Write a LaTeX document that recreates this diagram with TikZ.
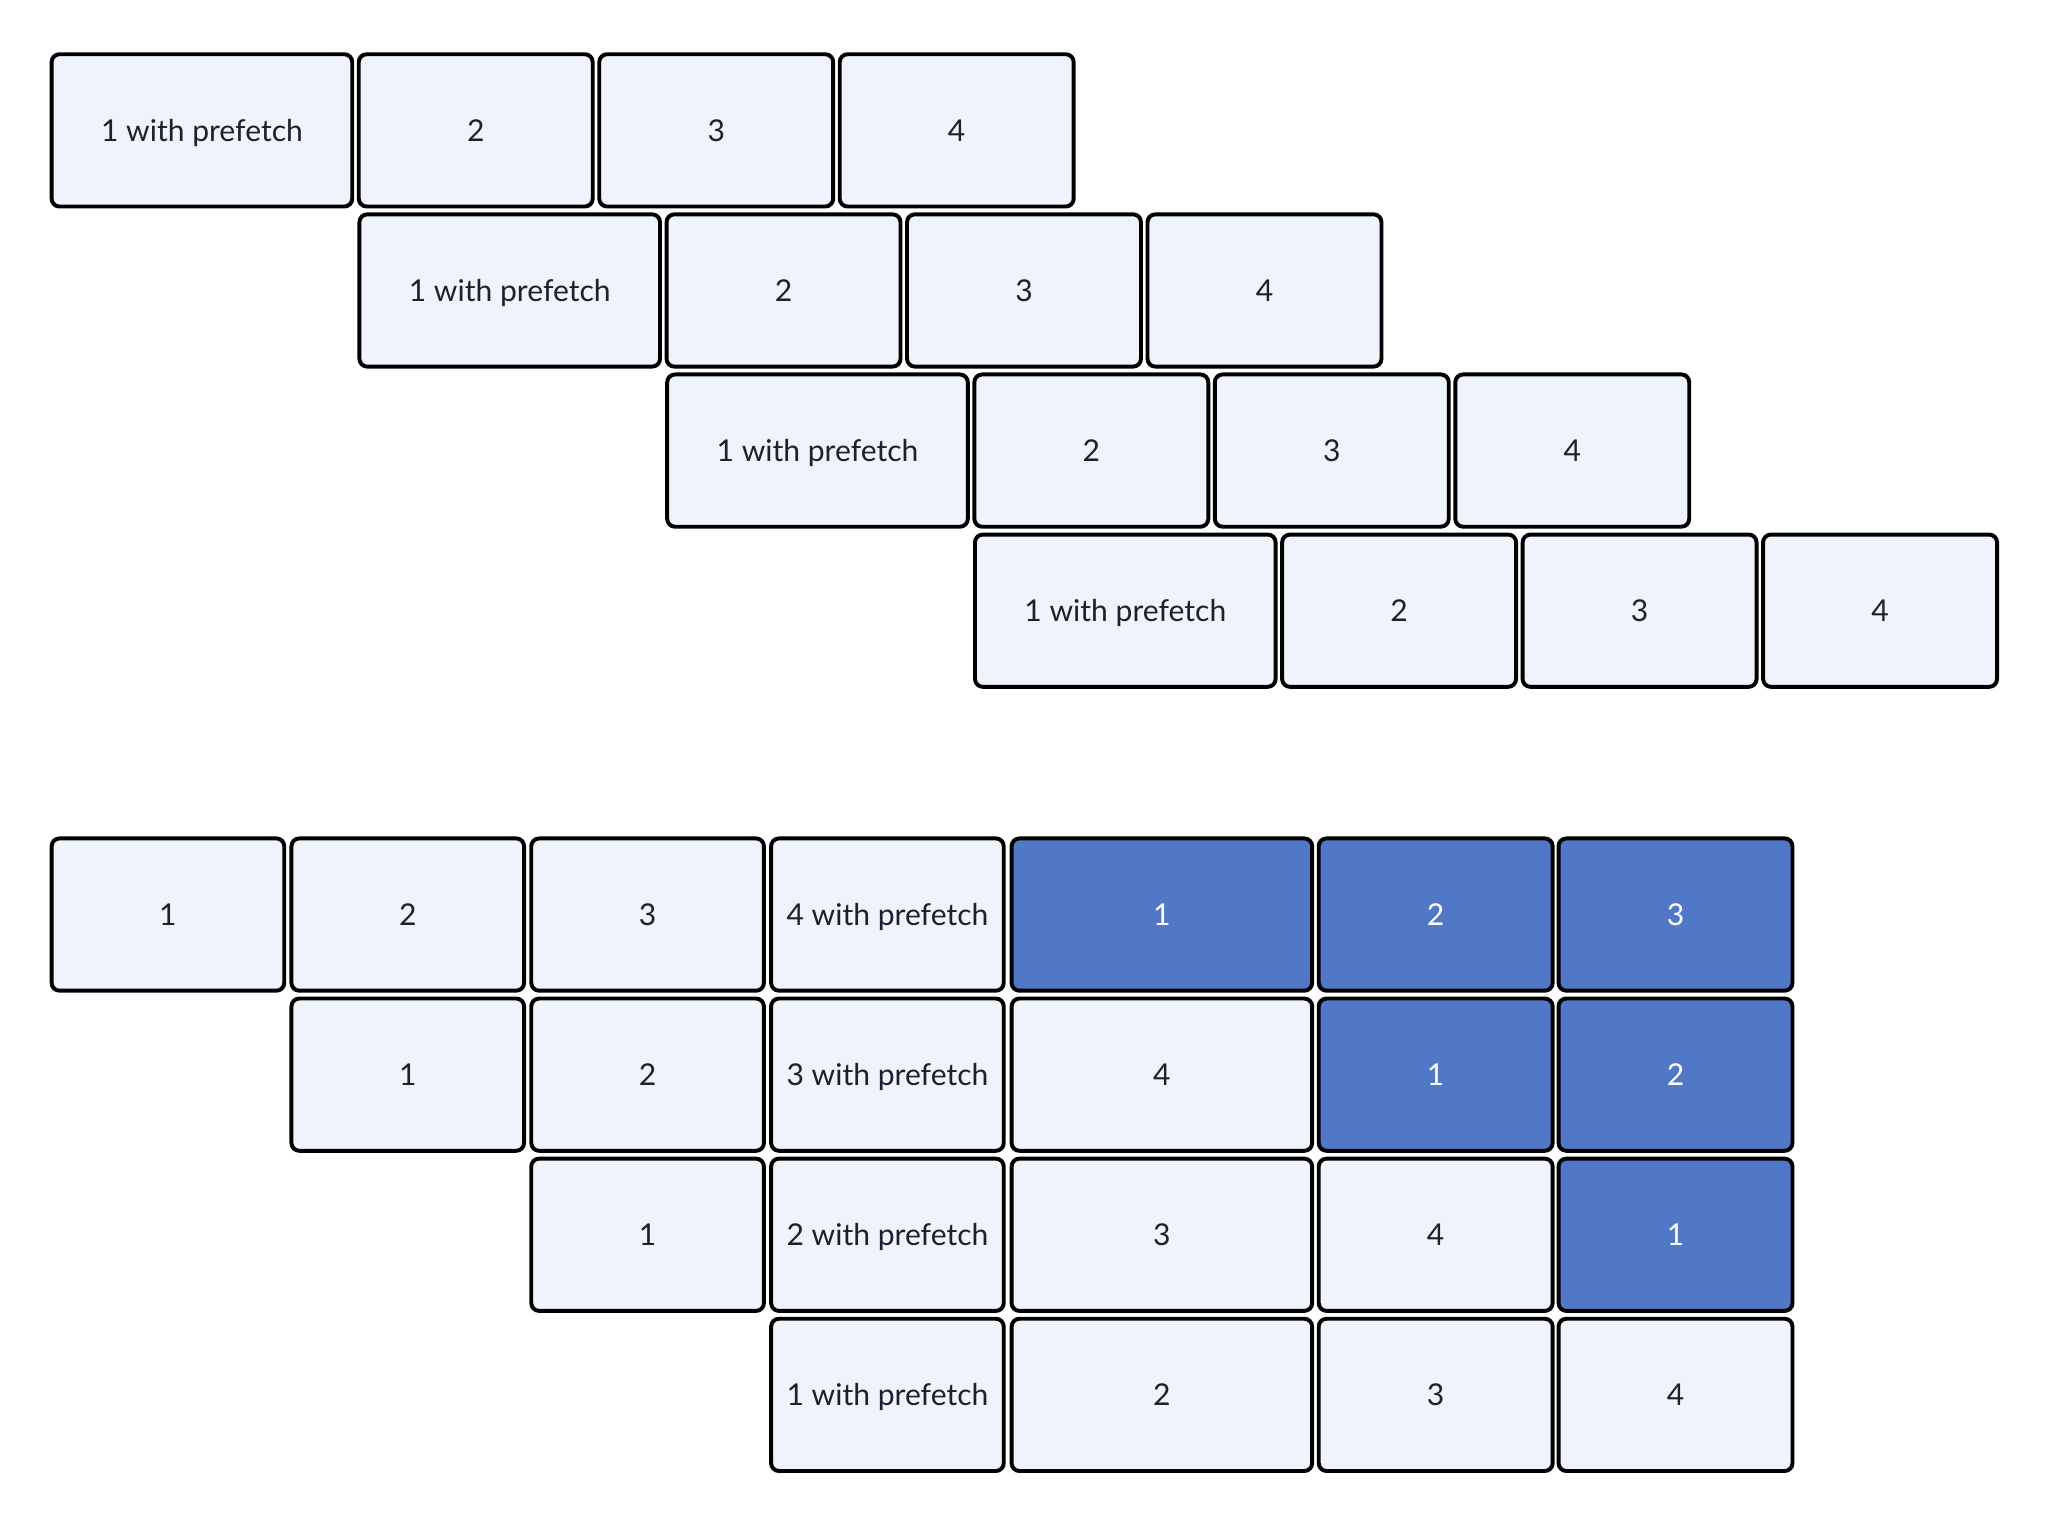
\documentclass[tikz,border=0pt]{standalone}
\usepackage{fontspec}
\setmainfont{Lato}
\definecolor{cellfill}{HTML}{EFF3FB}
\definecolor{hotfill}{HTML}{5178C6}
\definecolor{celltext}{HTML}{1C2130}
\newcommand\cell[7]{\node[#6, minimum width=#4pt-3pt, minimum height=#5pt-3pt] (#1) at ({#2+#4/2},{-(#3+#5/2)}) {#7};}
\tikzset{
  cellbox/.style={draw=black, line width=3pt, rounded corners=6pt, fill=cellfill, text=celltext, inner sep=0pt, text height=16.5pt, text depth=0pt, yshift=-2pt, font=\fontsize{23}{27}\selectfont},
  hotbox/.style={cellbox, fill=hotfill, text=white}
}
\begin{document}
\begin{tikzpicture}[x=1pt,y=1pt]
\useasboundingbox (0,0) rectangle (1567,-1163);
% top section
\cell{ta1}{38}{38}{233}{119.5}{cellbox}{1 with prefetch}
\cell{ta2}{273}{38}{182}{119.5}{cellbox}{2}
\cell{ta3}{457}{38}{182}{119.5}{cellbox}{3}
\cell{ta4}{641}{38}{182}{119.5}{cellbox}{4}
\cell{tb1}{273.5}{160.5}{233}{119.5}{cellbox}{1 with prefetch}
\cell{tb2}{508.5}{160.5}{182}{119.5}{cellbox}{2}
\cell{tb3}{692.5}{160.5}{182}{119.5}{cellbox}{3}
\cell{tb4}{876.5}{160.5}{182}{119.5}{cellbox}{4}
\cell{tc1}{509}{283}{233}{119.5}{cellbox}{1 with prefetch}
\cell{tc2}{744}{283}{182}{119.5}{cellbox}{2}
\cell{tc3}{928}{283}{182}{119.5}{cellbox}{3}
\cell{tc4}{1112}{283}{182}{119.5}{cellbox}{4}
\cell{td1}{744.5}{405.5}{233}{119.5}{cellbox}{1 with prefetch}
\cell{td2}{979.5}{405.5}{182}{119.5}{cellbox}{2}
\cell{td3}{1163.5}{405.5}{182}{119.5}{cellbox}{3}
\cell{td4}{1347.5}{405.5}{182}{119.5}{cellbox}{4}
% bottom section
\cell{ba1}{38}{638}{181}{119.5}{cellbox}{1}
\cell{ba2}{221.5}{638}{181}{119.5}{cellbox}{2}
\cell{ba3}{405}{638}{181}{119.5}{cellbox}{3}
\cell{ba4}{588.5}{638}{181}{119.5}{cellbox}{4 with prefetch}
\cell{ba5}{772.5}{638}{233}{119.5}{hotbox}{1}
\cell{ba6}{1007.5}{638}{182}{119.5}{hotbox}{2}
\cell{ba7}{1191}{638}{182}{119.5}{hotbox}{3}
\cell{bb1}{221.5}{760.5}{181}{119.5}{cellbox}{1}
\cell{bb2}{405}{760.5}{181}{119.5}{cellbox}{2}
\cell{bb3}{588.5}{760.5}{181}{119.5}{cellbox}{3 with prefetch}
\cell{bb4}{772.5}{760.5}{233}{119.5}{cellbox}{4}
\cell{bb5}{1007.5}{760.5}{182}{119.5}{hotbox}{1}
\cell{bb6}{1191}{760.5}{182}{119.5}{hotbox}{2}
\cell{bc1}{405}{883}{181}{119.5}{cellbox}{1}
\cell{bc2}{588.5}{883}{181}{119.5}{cellbox}{2 with prefetch}
\cell{bc3}{772.5}{883}{233}{119.5}{cellbox}{3}
\cell{bc4}{1007.5}{883}{182}{119.5}{cellbox}{4}
\cell{bc5}{1191}{883}{182}{119.5}{hotbox}{1}
\cell{bd1}{588.5}{1005.5}{181}{119.5}{cellbox}{1 with prefetch}
\cell{bd2}{772.5}{1005.5}{233}{119.5}{cellbox}{2}
\cell{bd3}{1007.5}{1005.5}{182}{119.5}{cellbox}{3}
\cell{bd4}{1191}{1005.5}{182}{119.5}{cellbox}{4}
\end{tikzpicture}
\end{document}
